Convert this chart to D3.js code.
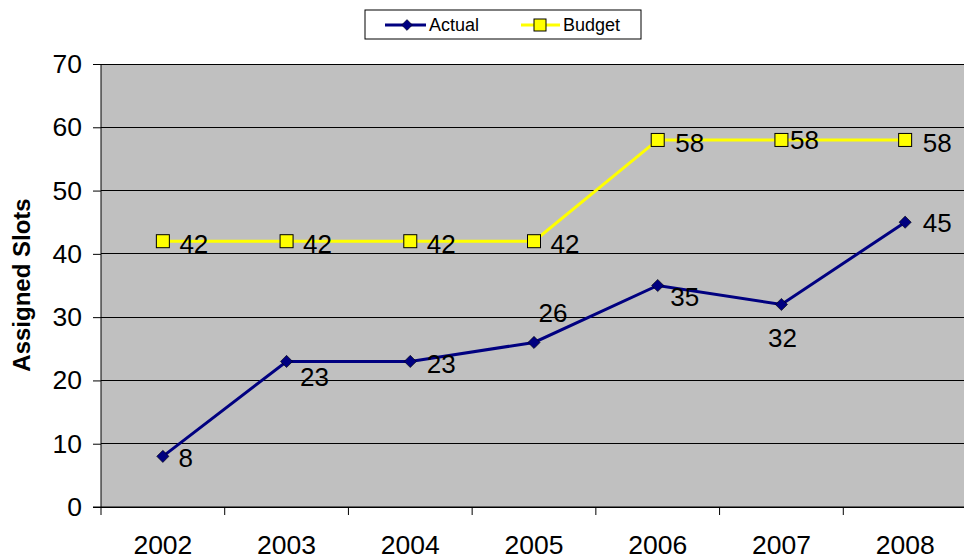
<!DOCTYPE html>
<html>
<head>
<meta charset="utf-8">
<script src="https://d3js.org/d3.v7.min.js"></script>
<style>
  body { margin: 0; background: #fff; }
  text { font-family: "Liberation Sans", Arial, sans-serif; }
</style>
</head>
<body>
<div id="chart"></div>
<script>
var years = ["2002", "2003", "2004", "2005", "2006", "2007", "2008"];
var actual = [8, 23, 23, 26, 35, 32, 45];
var budget = [42, 42, 42, 42, 58, 58, 58];
var yTicks = [0, 10, 20, 30, 40, 50, 60, 70];

// label offsets relative to the point (dx, dy)
var actualLabelPos = [[23, 2], [28, 15], [31, 2], [19, -30], [27, 11], [1, 33], [32, 1]];
var budgetLabelPos = [[31, 3], [31, 3], [31, 3], [31, 3], [32, 3], [23, 0], [32, 3]];

var W = 964, H = 559;
var margin = {top: 64, left: 101, right: -3, bottom: 52};
var width = W - margin.left - margin.right,
    height = H - margin.top - margin.bottom;

var svg = d3.select("#chart").append("svg")
  .attr("width", W).attr("height", H);

var g = svg.append("g")
  .attr("transform", "translate(" + margin.left + "," + margin.top + ")");

var x = d3.scaleBand().domain(years).range([0, width]);
var y = d3.scaleLinear().domain([0, 70]).range([height, 0]);

g.append("rect")
  .attr("width", width).attr("height", height)
  .attr("fill", "#c0c0c0");

g.selectAll(".grid").data(yTicks).enter().append("line")
  .attr("x1", 0).attr("x2", width)
  .attr("y1", function(d) { return y(d); })
  .attr("y2", function(d) { return y(d); })
  .attr("stroke", "#000").attr("stroke-width", 1)
  .attr("shape-rendering", "crispEdges");

// y axis
var yAxis = g.append("g")
  .call(d3.axisLeft(y).tickValues(yTicks).tickSize(8).tickPadding(11));
yAxis.select(".domain").attr("stroke", "#000").attr("d", "M0,0V" + (height + 1));
yAxis.selectAll("text").style("font-size", "26.5px").attr("fill", "#000");

// x axis
var xAxis = g.append("g")
  .attr("transform", "translate(0," + height + ")")
  .call(d3.axisBottom(x).tickSize(0).tickPadding(28));
xAxis.select(".domain").remove();
xAxis.selectAll("text").style("font-size", "26.5px").attr("fill", "#000");
xAxis.selectAll(".sep").data(d3.range(years.length + 1)).enter().append("line")
  .attr("class", "sep")
  .attr("x1", function(i) { return i * x.step(); })
  .attr("x2", function(i) { return i * x.step(); })
  .attr("y1", 0).attr("y2", 8)
  .attr("stroke", "#000");
xAxis.append("line").attr("x1", -8).attr("x2", width).attr("y1", 0).attr("y2", 0)
  .attr("stroke", "#000");

svg.append("text")
  .attr("transform", "translate(30," + (margin.top + 221) + ") rotate(-90)")
  .attr("text-anchor", "middle")
  .style("font-size", "24px").style("font-weight", "bold")
  .text("Assigned Slots");

var cx = function(i) { return x(years[i]) + x.bandwidth() / 2; };
var line = d3.line()
  .x(function(d, i) { return cx(i); })
  .y(function(d) { return y(d); });

g.append("path").datum(budget)
  .attr("d", line).attr("fill", "none")
  .attr("stroke", "#ffff00").attr("stroke-width", 3);
g.append("path").datum(actual)
  .attr("d", line).attr("fill", "none")
  .attr("stroke", "#000080").attr("stroke-width", 3);

var sq = 13;
g.selectAll(".bm").data(budget).enter().append("rect")
  .attr("x", function(d, i) { return cx(i) - sq / 2; })
  .attr("y", function(d) { return y(d) - sq / 2; })
  .attr("width", sq).attr("height", sq)
  .attr("fill", "#ffff00").attr("stroke", "#000").attr("stroke-width", 1);

var diamond = d3.symbol().type(d3.symbolDiamond2).size(95);
g.selectAll(".am").data(actual).enter().append("path")
  .attr("d", diamond)
  .attr("transform", function(d, i) { return "translate(" + cx(i) + "," + y(d) + ")"; })
  .attr("fill", "#000080").attr("stroke", "#000").attr("stroke-width", 0.6);

g.selectAll(".bl").data(budget).enter().append("text")
  .attr("x", function(d, i) { return cx(i) + budgetLabelPos[i][0]; })
  .attr("y", function(d, i) { return y(d) + budgetLabelPos[i][1]; })
  .attr("text-anchor", "middle").attr("dy", "0.35em")
  .style("font-size", "26px")
  .text(function(d) { return d; });

g.selectAll(".al").data(actual).enter().append("text")
  .attr("x", function(d, i) { return cx(i) + actualLabelPos[i][0]; })
  .attr("y", function(d, i) { return y(d) + actualLabelPos[i][1]; })
  .attr("text-anchor", "middle").attr("dy", "0.35em")
  .style("font-size", "26px")
  .text(function(d) { return d; });

// legend
var lg = svg.append("g").attr("transform", "translate(365,10)");
lg.append("rect").attr("width", 276).attr("height", 29)
  .attr("fill", "#fff").attr("stroke", "#000").attr("stroke-width", 1);
lg.append("line").attr("x1", 20).attr("x2", 61).attr("y1", 15).attr("y2", 15)
  .attr("stroke", "#000080").attr("stroke-width", 3);
lg.append("path").attr("d", d3.symbol().type(d3.symbolDiamond2).size(75))
  .attr("transform", "translate(42,15)").attr("fill", "#000080").attr("stroke", "#000").attr("stroke-width", 0.5);
lg.append("text").attr("x", 64).attr("y", 15).attr("dy", "0.35em")
  .style("font-size", "18px").text("Actual");
lg.append("line").attr("x1", 156).attr("x2", 195).attr("y1", 15).attr("y2", 15)
  .attr("stroke", "#ffff00").attr("stroke-width", 3);
lg.append("rect").attr("x", 169).attr("y", 9).attr("width", 12).attr("height", 12)
  .attr("fill", "#ffff00").attr("stroke", "#000");
lg.append("text").attr("x", 198).attr("y", 15).attr("dy", "0.35em")
  .style("font-size", "18px").text("Budget");
</script>
</body>
</html>
